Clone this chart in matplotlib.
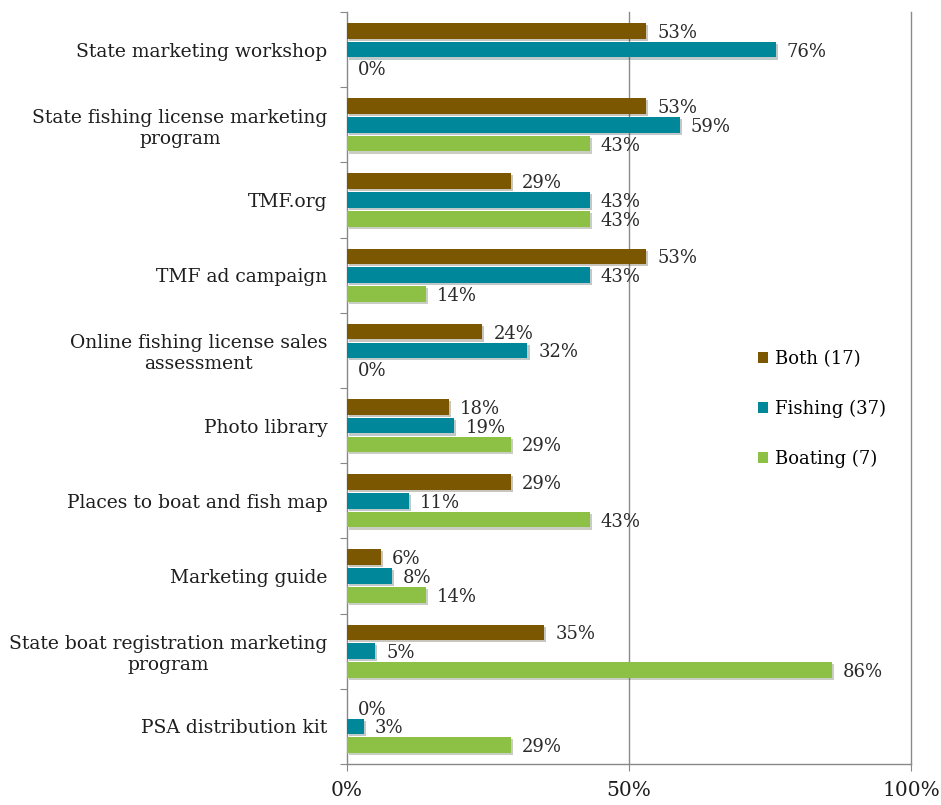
import matplotlib
matplotlib.use("Agg")
import matplotlib.pyplot as plt
from matplotlib.patches import Patch
import matplotlib.patheffects as pe
import numpy as np

categories = [
    "State marketing workshop",
    "State fishing license marketing\nprogram",
    "TMF.org",
    "TMF ad campaign",
    "Online fishing license sales\nassessment",
    "Photo library",
    "Places to boat and fish map",
    "Marketing guide",
    "State boat registration marketing\nprogram",
    "PSA distribution kit",
]
series_names = ["Both (17)", "Fishing (37)", "Boating (7)"]
both = [53, 53, 29, 53, 24, 18, 29, 6, 35, 0]
fishing = [76, 59, 43, 43, 32, 19, 11, 8, 5, 3]
boating = [0, 43, 43, 14, 0, 29, 43, 14, 86, 29]
x_ticks = [0, 50, 100]
x_ticklabels = ["0%", "50%", "100%"]

colors = ["#7A5700", "#00879A", "#8DC146"]
font = "DejaVu Serif"
plt.rcParams["font.family"] = [font]

fig = plt.figure(figsize=(9.41, 8.05), dpi=100)
ax = fig.add_axes([347/941, 1-764/805, 564/941, 752/805])

y = np.arange(len(categories))
offsets = [-0.25, 0.0, 0.25]
h = 0.21
shadow = [pe.SimplePatchShadow(offset=(1.5, -1.5), alpha=0.25), pe.Normal()]
for vals, off, col in zip([both, fishing, boating], offsets, colors):
    ax.barh(y + off, vals, height=h, color=col, zorder=3, path_effects=shadow)
    for yi, v in zip(y + off, vals):
        ax.annotate(f"{v}%", xy=(v, yi), xytext=(8, -1.5), textcoords="offset points",
                    va="center", ha="left", fontsize=13, color="#2a2a2a", zorder=4)

ax.set_xlim(0, 100)
ax.set_ylim(len(categories) - 0.5, -0.5)

ax.set_xticks(x_ticks)
ax.set_xticklabels(x_ticklabels, fontsize=14.5, color="#1e1e1e")
ax.tick_params(axis="x", length=5, color="#888888", pad=7)
for xv in x_ticks[1:]:
    ax.axvline(xv, color="#8a8a8a", linewidth=1, zorder=0, clip_on=False)

ax.set_yticks(np.arange(-0.5, len(categories) + 0.5, 1))
ax.set_yticklabels([])
ax.tick_params(axis="y", which="major", length=5, color="#888888")
ax.set_yticks(y, minor=True)
ax.set_yticklabels(categories, minor=True, fontsize=13.5, color="#1e1e1e",
                   multialignment="center")
ax.tick_params(axis="y", which="minor", length=0, pad=14)

for s in ["top", "right"]:
    ax.spines[s].set_visible(False)
for s in ["left", "bottom"]:
    ax.spines[s].set_color("#888888")
    ax.spines[s].set_linewidth(1)

handles = [Patch(facecolor=c, edgecolor="none") for c in colors]
leg = ax.legend(handles, series_names, loc="upper left", bbox_to_anchor=(0.70, 0.572),
                frameon=False, fontsize=13, handlelength=0.55, handleheight=0.55,
                handletextpad=0.4, labelspacing=1.75)

fig.savefig("out.png", dpi=100)
